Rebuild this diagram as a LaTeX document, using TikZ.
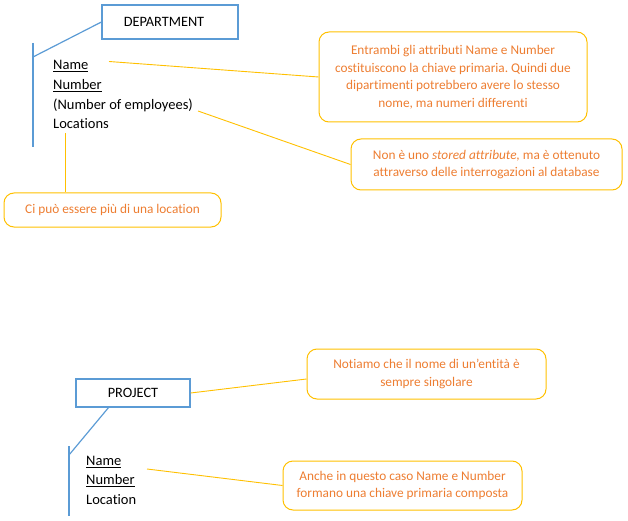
\documentclass[tikz,border=0pt]{standalone}
\usepackage{fontspec}
\setmainfont{Carlito}[Ligatures=NoCommon]
\frenchspacing
\definecolor{eblue}{HTML}{5B9BD5}
\definecolor{gold}{HTML}{FFC000}
\definecolor{otext}{HTML}{ED7D31}
\tikzset{
  entity/.style={draw=eblue, line width=1.2pt, inner sep=0pt, font=\fontsize{14.3}{17}\selectfont},
  callout/.style={draw=gold, line width=1pt, rounded corners=10pt, inner sep=0pt, align=center, text=otext, font=\fontsize{13.3}{17.5}\selectfont},
  attr/.style={anchor=west, inner sep=0pt, font=\fontsize{14.5}{17}\selectfont},
  bline/.style={draw=eblue, line width=1.2pt},
  gline/.style={draw=gold, line width=0.9pt},
}
\begin{document}
\begin{tikzpicture}[x=1pt, y=-1pt]
\useasboundingbox (0,0) rectangle (628,521);

% ---------- DEPARTMENT ----------
\node[entity, minimum width=136pt, minimum height=34pt] (dept) at (170,22) {\hspace*{-12pt}DEPARTMENT};
\coordinate (dtop) at (33,43);
\coordinate (dbot) at (33,147);
\coordinate (djoin) at (33,57);
\draw[bline] (dtop) -- (dbot);
\draw[bline] (dept.west) -- (djoin);

\node[attr] (dname) at (53,66) {\underline{Name}};
\node[attr] (dnum) at (53,86) {\underline{Number}};
\node[attr] (demp) at (53,105) {(Number of employees)};
\node[attr] (dloc) at (53,124) {Locations};

\node[callout, minimum width=268pt, minimum height=90pt] (c1) at (453,77)
  {Entrambi gli attributi Name e Number\\costituiscono la chiave primaria. Quindi due\\dipartimenti potrebbero avere lo stesso\\nome, ma numeri differenti};
\node[callout, minimum width=271pt, minimum height=51pt] (c2) at (486.5,164.5)
  {Non è uno \textit{stored attribute,} ma è ottenuto\\attraverso delle interrogazioni al database};
\node[callout, minimum width=217pt, minimum height=34pt] (c3) at (112.5,210)
  {Ci può essere più di una location};

\coordinate (nameend) at (109,61.5);
\coordinate (empend) at (198,111);
\coordinate (locend) at (65,133);
\draw[gline] (nameend) -- (c1.west);
\draw[gline] (empend) -- (c2.west);
\draw[gline] (locend) -- (c3.north -| locend);

% ---------- PROJECT ----------
\node[entity, minimum width=114pt, minimum height=28pt] (proj) at (133,393) {PROJECT};
\coordinate (ptop) at (69,446);
\coordinate (pbot) at (69,516);
\coordinate (pjoin) at (69,455);
\coordinate (psrc) at (109,407);
\draw[bline] (ptop) -- (pbot);
\draw[bline] (psrc) -- (pjoin);

\node[attr] (pname) at (86,462) {\underline{Name}};
\node[attr] (pnum) at (86,481) {\underline{Number}};
\node[attr] (ploc) at (86,500) {Location};

\node[callout, minimum width=239pt, minimum height=50pt] (c4) at (426.5,374)
  {Notiamo che il nome di un’entità è\\sempre singolare};
\node[callout, minimum width=239pt, minimum height=49pt] (c5) at (402.5,485.5)
  {Anche in questo caso Name e Number\\formano una chiave primaria composta};

\coordinate (pnameend) at (147,469);
\draw[gline] (proj.east) -- ([yshift=-5pt]c4.west);
\draw[gline] (pnameend) -- (c5.west);
\end{tikzpicture}
\end{document}
